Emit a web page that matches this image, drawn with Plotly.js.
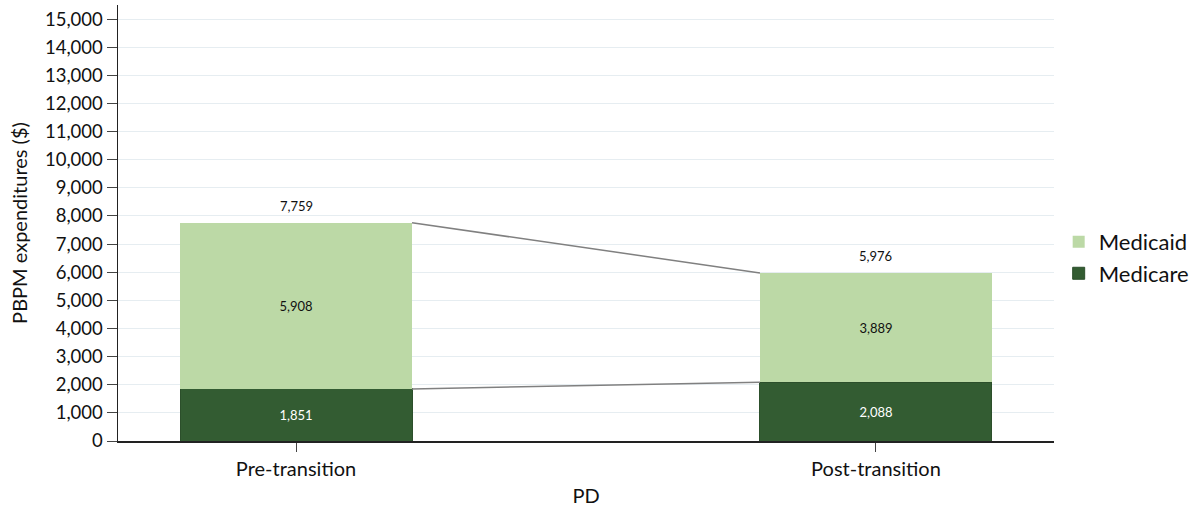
<!DOCTYPE html>
<html>
<head>
<meta charset="utf-8">
<script src="https://cdn.plot.ly/plotly-3.0.1.min.js"></script>
<style>html,body{margin:0;padding:0;background:#fff}</style>
</head>
<body>
<div id="chart" style="width:1204px;height:508px"></div>
<script>
const categories = ["Pre-transition", "Post-transition"];
const medicare = [1851, 2088];
const medicaid = [5908, 3889];
const totals = [7759, 5976];
const yTicks = [0,1000,2000,3000,4000,5000,6000,7000,8000,9000,10000,11000,12000,13000,14000,15000];

const xpos = categories.map((c, i) => i);
const barW = 0.4;
const fontFam = "Lato, 'Open Sans', sans-serif";
const fmt = v => v.toLocaleString('en-US');

const traces = [
  {
    type: 'bar', name: 'Medicare', x: xpos, y: medicare, width: barW,
    marker: {color: '#335c32', line: {color: '#2c4f2b', width: 1}},
    text: medicare.map(fmt), textposition: 'inside',
    insidetextanchor: 'middle', textangle: 0,
    textfont: {color: '#ffffff', size: 13, family: fontFam},
    hoverinfo: 'skip'
  },
  {
    type: 'bar', name: 'Medicaid', x: xpos, y: medicaid, width: barW,
    marker: {color: '#bcd9a6', line: {color: '#bcd9a6', width: 0}},
    text: medicaid.map(fmt), textposition: 'inside',
    insidetextanchor: 'middle', textangle: 0,
    textfont: {color: '#111111', size: 13, family: fontFam},
    hoverinfo: 'skip'
  },
  {
    type: 'scatter', mode: 'lines', showlegend: false, hoverinfo: 'skip',
    x: [xpos[0] + barW/2, xpos[1] - barW/2], y: [totals[0], totals[1]],
    line: {color: '#808080', width: 1.5}
  },
  {
    type: 'scatter', mode: 'lines', showlegend: false, hoverinfo: 'skip',
    x: [xpos[0] + barW/2, xpos[1] - barW/2], y: [medicare[0], medicare[1]],
    line: {color: '#808080', width: 1.5}
  }
];

const annotations = xpos.map((x, i) => ({
  x: x, y: totals[i], xref: 'x', yref: 'y', text: fmt(totals[i]),
  showarrow: false, yanchor: 'bottom', yshift: 7,
  font: {color: '#111111', size: 13, family: fontFam}
}));

const layout = {
  width: 1204, height: 508,
  margin: {l: 118, r: 150, t: 5, b: 67},
  paper_bgcolor: '#ffffff', plot_bgcolor: '#ffffff',
  barmode: 'stack',
  font: {family: fontFam, color: '#111111'},
  showlegend: true,
  annotations: annotations,
  legend: {
    x: 1.005, xanchor: 'left', y: 0.42, yanchor: 'middle',
    traceorder: 'reversed', font: {size: 22, family: fontFam, color: '#111111'},
    itemwidth: 30, tracegroupgap: 4
  },
  xaxis: {
    range: [-0.307, 1.307], tickvals: xpos, ticktext: categories,
    showgrid: false, zeroline: false, showline: true, linecolor: '#222222', linewidth: 1.5,
    ticks: 'outside', ticklen: 9, tickcolor: '#444444',
    tickfont: {size: 20, family: fontFam},
    title: {text: 'PD', font: {size: 20, family: fontFam}, standoff: 10}
  },
  yaxis: {
    range: [0, 15500], tickvals: yTicks, tickformat: ',',
    showgrid: true, gridcolor: '#e6edf1', gridwidth: 1,
    zeroline: false, showline: true, linecolor: '#222222', linewidth: 1.5,
    ticks: 'outside', ticklen: 10, tickcolor: '#444444',
    tickfont: {size: 18.5, family: fontFam},
    title: {text: 'PBPM expenditures ($)', font: {size: 20, family: fontFam}, standoff: 12}
  }
};

Plotly.newPlot('chart', traces, layout, {displayModeBar: false, staticPlot: true});
</script>
</body>
</html>
